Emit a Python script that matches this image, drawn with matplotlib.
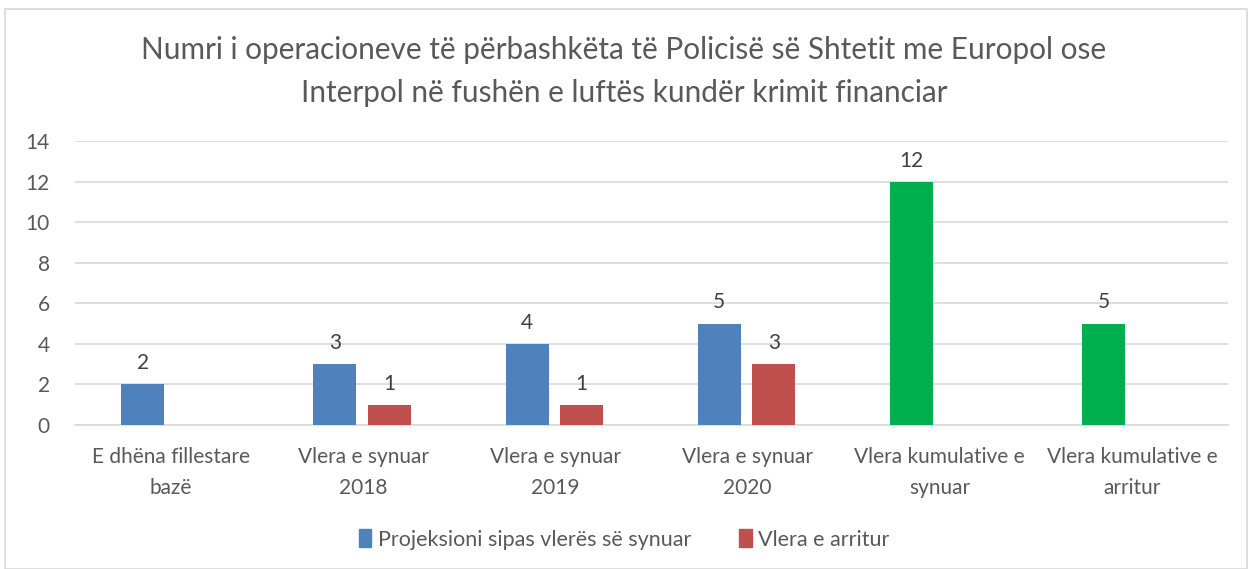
import matplotlib
matplotlib.use("Agg")
import matplotlib.pyplot as plt
from matplotlib.patches import Patch, Rectangle
import numpy as np

categories = ["E dhëna fillestare\nbazë", "Vlera e synuar\n2018", "Vlera e synuar\n2019",
              "Vlera e synuar\n2020", "Vlera kumulative e\nsynuar", "Vlera kumulative e\narritur"]
projeksioni = [2, 3, 4, 5, 12, 5]
arritur = [None, 1, 1, 3, None, None]
series_names = ["Projeksioni sipas vlerës së synuar", "Vlera e arritur"]
title = "Numri i operacioneve të përbashkëta të Policisë së Shtetit me Europol ose\nInterpol në fushën e luftës kundër krimit financiar"

BLUE = "#4F81BD"
RED = "#C0504D"
GREEN = "#00B050"
TXT = "#595959"

plt.rcParams['font.family'] = ['Lato', 'DejaVu Sans']

fig = plt.figure(figsize=(12.48, 5.69), dpi=100)
ax = fig.add_axes([0.060, 0.253, 0.924, 0.499])

x = np.arange(len(categories))
w = 0.224
off = 0.142
blue_colors = [BLUE, BLUE, BLUE, BLUE, GREEN, GREEN]
for i, v in enumerate(projeksioni):
    ax.bar(x[i] - off - 0.005, v, width=w, color=blue_colors[i], zorder=3)
    ax.text(x[i] - off - 0.005, v + 0.55, str(v), ha='center', va='bottom', fontsize=15, color="#404040")
for i, v in enumerate(arritur):
    if v is None:
        continue
    ax.bar(x[i] + off - 0.005, v, width=w, color=RED, zorder=3)
    ax.text(x[i] + off - 0.005, v + 0.55, str(v), ha='center', va='bottom', fontsize=15, color="#404040")

ax.set_xlim(-0.5, 5.5)
ax.set_ylim(0, 14)
ax.set_yticks(range(0, 15, 2))
ax.yaxis.grid(True, color="#D9D9D9", linewidth=1.2, zorder=0)
ax.set_axisbelow(True)
for s in ['top', 'right', 'left']:
    ax.spines[s].set_visible(False)
ax.spines['bottom'].set_color("#D9D9D9")
ax.spines['bottom'].set_linewidth(1.2)
ax.set_xticks(x)
ax.set_xticklabels(categories, fontsize=15, color=TXT, linespacing=1.7)
ax.tick_params(axis='both', length=0, labelsize=15, colors=TXT)
ax.tick_params(axis='x', pad=16)
ax.tick_params(axis='y', pad=18)

fig.text(0.5, 0.875, title, ha='center', va='center', fontsize=21.4, color=TXT, linespacing=1.65)

handles = [Patch(color=BLUE), Patch(color=RED)]
fig.legend(handles, series_names, loc='center', bbox_to_anchor=(0.5, 0.052), ncol=2,
           frameon=False, fontsize=15.5, labelcolor=TXT, handlelength=0.6, handleheight=0.9,
           handletextpad=0.3, columnspacing=2.2)

fig.patches.append(Rectangle((0.004, 0.0), 0.995, 0.985, transform=fig.transFigure,
                             fill=False, edgecolor="#D9D9D9", linewidth=1.2))

fig.savefig("out.png", dpi=100)
